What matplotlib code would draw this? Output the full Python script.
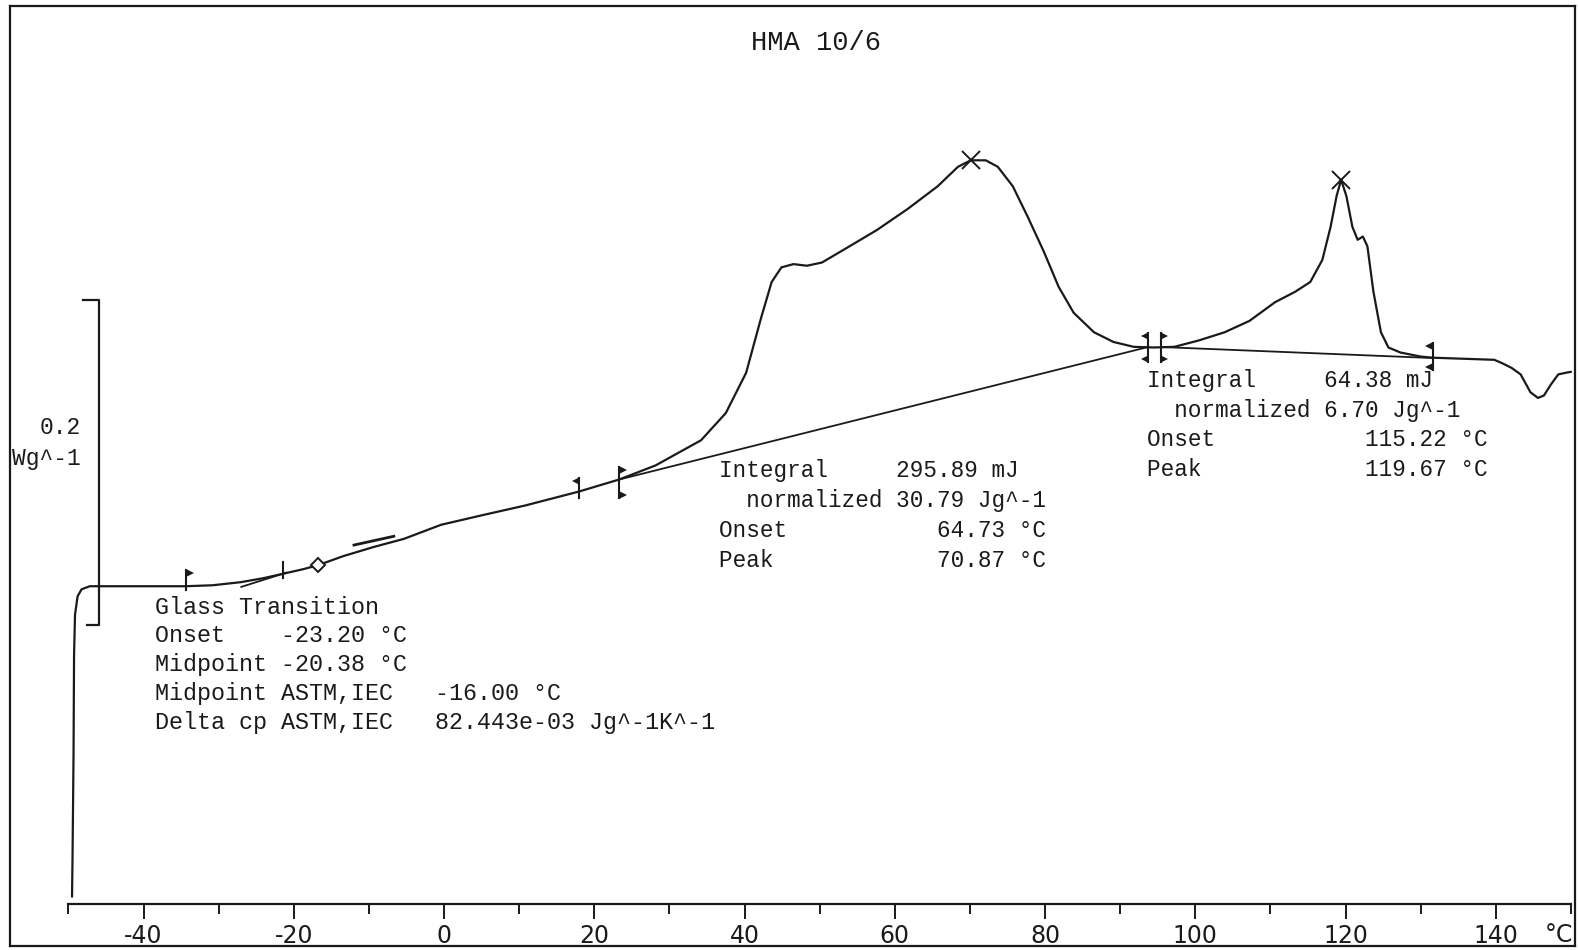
import matplotlib
matplotlib.use("Agg")
import matplotlib.pyplot as plt
from matplotlib.lines import Line2D

# DSC trace: temperature (degC) and heat flow (W/g, offset so Tg baseline ~ 0)
temp = [-49.53, -49.46, -49.33, -49.26, -49.13, -48.79, -48.26, -47.18, -45.58,
        -41.55, -37.53, -34.45, -30.83, -27.08, -24.13, -21.72, -18.77, -16.76,
        -13.40, -9.38, -5.36, -0.40, 5.36, 10.72, 17.96, 23.3, 28.15, 34.2,
        37.5, 40.2, 42.2, 43.6, 44.9, 46.5, 48.3, 50.3, 53.6, 57.6, 61.7, 65.7,
        68.4, 70.1, 72.1, 73.7, 75.7, 77.7, 79.8, 81.8, 83.8, 86.5, 89.1, 91.8,
        94.5, 97.2, 100.5, 103.9, 107.2, 110.6, 113.3, 115.3, 116.9, 118.0,
        118.8, 119.4, 120.1, 120.9, 121.6, 122.3, 122.9, 123.7, 124.7, 125.7,
        127.3, 130.0, 131.6, 135.4, 139.8, 140.8, 142.1, 143.3, 144.6, 145.6,
        146.4, 147.3, 148.3, 149.3, 150.0]
heat_flow = [-0.192, -0.167, -0.105, -0.043, -0.018, -0.0068, -0.0025, -0.0006,
             -0.0006, -0.0006, -0.0006, -0.0006, 0.0, 0.0019, 0.0043, 0.0068,
             0.0099, 0.0124, 0.0180, 0.0236, 0.0286, 0.0373, 0.0435, 0.0491,
             0.0578, 0.0652, 0.0739, 0.0894, 0.1062, 0.131, 0.165, 0.187, 0.196,
             0.198, 0.197, 0.199, 0.208, 0.219, 0.232, 0.246, 0.258, 0.262,
             0.262, 0.258, 0.246, 0.227, 0.206, 0.184, 0.168, 0.156, 0.150,
             0.147, 0.1466, 0.147, 0.151, 0.156, 0.163, 0.1745, 0.181, 0.187,
             0.2006, 0.221, 0.240, 0.250, 0.240, 0.221, 0.213, 0.215, 0.209,
             0.181, 0.156, 0.1466, 0.1435, 0.141, 0.1403, 0.1397, 0.139, 0.137,
             0.134, 0.130, 0.119, 0.1155, 0.117, 0.1236, 0.130, 0.131, 0.1316]

# integration baselines
base1_t = [23.3, 93.7]
base1_hf = [0.0652, 0.1469]
base2_t = [95.4, 131.6]
base2_hf = [0.1469, 0.1401]

# glass transition tangents
tan_lo_t = [-27.0, -21.0]
tan_lo_hf = [-0.001, 0.0078]
tan_hi_t = [-12.0, -6.7]
tan_hi_hf = [0.0248, 0.0302]

# evaluation limit markers: temperature, low, high, top triangle, bottom triangle
limits = [
    (-34.3, -0.0031, 0.0093, ">", None),
    (17.96, 0.0538, 0.0661, "<", None),
    (23.3, 0.0538, 0.0729, ">", ">"),
    (93.7, 0.1377, 0.1555, "<", "<"),
    (95.4, 0.1377, 0.1555, ">", ">"),
    (131.6, 0.1327, 0.1493, "<", "<"),
]
tg_mid_t, tg_mid_lo, tg_mid_hi = -21.45, 0.0043, 0.0143
tg_astm_t, tg_astm_hf = -16.76, 0.0124
peaks_t = [70.1, 119.4]
peaks_hf = [0.262, 0.250]

x_ticks = list(range(-40, 141, 20))
x_minor = list(range(-50, 151, 10))

W, H = 1579, 950
fig = plt.figure(figsize=(W / 100, H / 100), dpi=100)
ax = fig.add_axes([0.04338, 0.04884, 0.95155, 0.9459])
ax.set_xlim(-50, 150)
ax.set_ylim(-0.19627, 0.35776)

ink = "#1a1a1a"
mono = ["Liberation Mono", "DejaVu Sans Mono"]
narrow = ["Liberation Sans Narrow", "DejaVu Sans"]

ax.plot(temp, heat_flow, color=ink, lw=1.6, solid_capstyle="round", clip_on=False)
ax.plot(base1_t, base1_hf, color=ink, lw=1.3)
ax.plot(base2_t, base2_hf, color=ink, lw=1.3)
ax.plot(tan_lo_t, tan_lo_hf, color=ink, lw=1.3)
ax.plot(tan_hi_t, tan_hi_hf, color=ink, lw=2.0)

# limit markers
for t, lo, hi, top, bot in limits:
    ax.plot([t, t], [lo, hi], color=ink, lw=1.5)
    for tri, yy in ((top, hi - 0.002), (bot, lo + 0.002)):
        if tri is None:
            continue
        dx = 0.45 if tri == ">" else -0.45
        ax.plot(t + dx, yy, marker=tri, color=ink, ms=5.5, mew=0)
ax.plot([tg_mid_t, tg_mid_t], [tg_mid_lo, tg_mid_hi], color=ink, lw=1.5)
ax.plot(tg_astm_t, tg_astm_hf, marker="D", ms=7.5, mfc="white", mec=ink, mew=1.4)
ax.plot(peaks_t, peaks_hf, ls="none", marker="x", ms=13, mew=1.4, color=ink)

# 0.2 W/g scale bracket
ax.plot([-48.1, -46.0, -46.0, -47.6], [0.1758, 0.1758, -0.0242, -0.0242],
        color=ink, lw=1.6, clip_on=False)

# axis styling
for s in ("left", "right", "top"):
    ax.spines[s].set_visible(False)
ax.spines["bottom"].set_linewidth(1.6)
ax.spines["bottom"].set_color(ink)
ax.set_yticks([])
ax.set_xticks(x_ticks)
ax.set_xticks(x_minor, minor=True)
ax.set_xticklabels([str(v) for v in x_ticks], family=narrow, fontsize=17, color=ink)
ax.tick_params(axis="x", which="major", direction="out", length=11, width=1.4, pad=4, colors=ink)
ax.tick_params(axis="x", which="minor", direction="out", length=7.5, width=1.4, colors=ink)


def ftext(x, y, s, **kw):
    fig.text(x / W, 1 - y / H, s, va="center", color=ink, family=mono, **kw)


ftext(816, 43, "HMA 10/6", fontsize=19.5, ha="center")
ftext(81, 428, "0.2", fontsize=16.5, ha="right")
ftext(81, 458, "Wg^-1", fontsize=16.5, ha="right")
fig.text(1559 / W, 1 - 935 / H, "°C", va="center", ha="center", color=ink,
         family=narrow, fontsize=17)

glass = ["Glass Transition",
         "Onset    -23.20 °C",
         "Midpoint -20.38 °C",
         "Midpoint ASTM,IEC   -16.00 °C",
         "Delta cp ASTM,IEC   82.443e-03 Jg^-1K^-1"]
for i, line in enumerate(glass):
    ftext(155, 607 + i * 28.8, line, fontsize=16.8)

peak1 = ["Integral     295.89 mJ",
         "  normalized 30.79 Jg^-1",
         "Onset           64.73 °C",
         "Peak            70.87 °C"]
for i, line in enumerate(peak1):
    ftext(719, 470 + i * 30.3, line, fontsize=16.3)

peak2 = ["Integral     64.38 mJ",
         "  normalized 6.70 Jg^-1",
         "Onset           115.22 °C",
         "Peak            119.67 °C"]
for i, line in enumerate(peak2):
    ftext(1147, 381 + i * 29.4, line, fontsize=16.3)

# page frame
for xs, ys in (([10, 10], [6, 946]), ([10, 1575], [6, 6]),
               ([1575, 1575], [6, 946]), ([10, 1575], [946, 946])):
    fig.add_artist(Line2D([x / W for x in xs], [1 - y / H for y in ys],
                          color=ink, lw=1.6))

fig.savefig("out.png", dpi=100, facecolor="white")
